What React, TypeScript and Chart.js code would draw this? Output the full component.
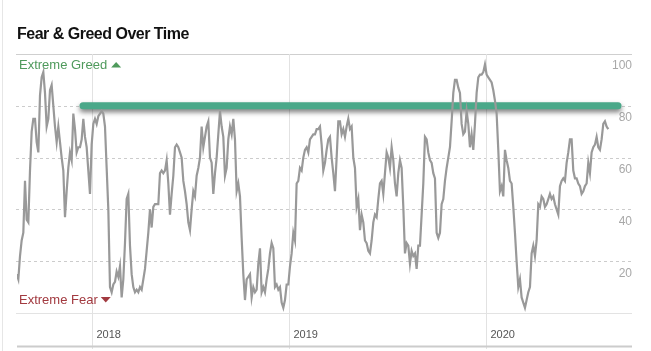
import React, { useEffect, useRef } from "react";
import { Chart, registerables } from "chart.js";

Chart.register(...registerables);

// Fear & Greed index sampled about every 3 days (decimal-year timeline)
const seriesStartYear = 2017.6193;
const seriesStepYears = 0.00846;

const values2017to2018 = [
  15, 13, 22, 28, 31, 51, 36, 35, 55, 70, 75, 75, 66, 62, 84, 91, 93, 85, 72, 75,
  86, 88, 80, 72, 66, 72, 66, 60, 55, 37, 47, 56, 62, 59, 77, 71, 62, 64, 64, 67,
  75, 68, 64, 55, 46, 65, 73, 75, 73, 76, 77, 78, 77, 72, 56, 40, 10, 8, 11, 12,
  16, 14, 18, 6, 13, 27, 44, 46, 26, 15, 10, 8, 9, 8, 10, 9, 13, 17, 24, 31,
  40, 33, 41, 42, 42, 42, 54, 55, 54, 55, 59, 50, 38, 46, 53, 64, 65, 64, 62, 60,
  51, 47, 42, 35, 32, 40, 47, 45, 53, 56,
];

const values2018to2019 = [
  60, 72, 64, 68, 72, 74, 60, 58, 46, 54, 60, 69, 78, 72, 68, 53, 56, 67, 72, 69,
  75, 67, 47, 50, 45, 29, 15, 5, 13, 14, 15, 6, 10, 8, 9, 19, 25, 8, 10, 8,
  13, 17, 23, 27, 25, 10, 11, 9, 10, 4, 2, 5, 11, 11, 18, 23, 31, 28, 50, 51,
  56, 55, 60, 63, 64, 62, 67, 68, 69, 69, 71, 71, 72, 65, 55, 58, 63, 67, 68, 60,
  54, 47, 60, 74, 74, 69, 71, 68, 72, 75, 71, 72, 60, 56, 41, 44, 32, 38, 35, 28,
  27, 24, 23, 28, 35, 38, 37, 44, 50, 51, 46, 54, 62, 60, 56, 64, 59, 50, 45, 54,
  59, 56, 41, 23, 27, 26, 19, 24, 22, 23, 17, 26,
];

const values2019to2020 = [
  26, 38, 50, 68, 67, 62, 59, 58, 54, 52, 31, 29, 31, 42, 44, 51, 56, 60, 64, 74,
  85, 90, 90, 87, 85, 73, 69, 70, 78, 73, 64, 69, 63, 73, 85, 91, 92, 92, 93, 96,
  92, 91, 90, 89, 86, 82, 77, 63, 47, 49, 45, 63, 59, 56, 51, 50, 41, 31, 20, 10,
  13, 6, 4, 2, 5, 8, 10, 23, 26, 22, 28, 42, 41, 45, 44, 41, 42, 44, 46, 44,
  45, 42, 40, 38, 49, 51, 52, 51, 58, 62, 67, 67, 55, 52, 52, 50, 49, 46, 47, 49,
  50, 58, 54, 62, 64, 65, 68, 64, 63, 67, 73, 74, 72, 71,
];

const fearGreedValues = [...values2017to2018, ...values2018to2019, ...values2019to2020];

// Extreme-greed reference band
const greedLineValue = 80;
const greedLineStart = 2017.956;
const greedLineEnd = 2020.672;

// Axes
const xMin = 2017.621;
const xMax = 2020.743;
const yearTicks = [2018, 2019, 2020];
const yTicks = [20, 40, 60, 80, 100];

const titleText = "Fear & Greed Over Time";
const greedLabel = "Extreme Greed";
const fearLabel = "Extreme Fear";

export default function App() {
  const ref = useRef<HTMLCanvasElement | null>(null);

  useEffect(() => {
    const canvas = ref.current;
    if (!canvas) return;

    const points = fearGreedValues.map((v, i) => ({ x: seriesStartYear + i * seriesStepYears, y: v }));

    const decorPlugin = {
      id: "decor",
      beforeDatasetsDraw(chart: any) {
        const { ctx, chartArea, scales } = chart;
        const xs = scales.x;
        const ys = scales.y;
        ctx.save();
        // container left border
        ctx.strokeStyle = "#e6e6e6";
        ctx.lineWidth = 1;
        ctx.beginPath();
        ctx.moveTo(2.5, 0);
        ctx.lineTo(2.5, 351);
        ctx.stroke();

        // title
        ctx.fillStyle = "#111";
        ctx.font = "bold 16px 'Liberation Sans', Arial, sans-serif";
        ctx.textAlign = "left";
        ctx.textBaseline = "alphabetic";
        (ctx as any).letterSpacing = "-0.5px";
        ctx.fillText(titleText, 17, 39);
        (ctx as any).letterSpacing = "0px";

        // horizontal grid
        [0, ...yTicks].forEach((v) => {
          const y = Math.round(ys.getPixelForValue(v)) + 0.5;
          ctx.beginPath();
          if (v === 0 || v === 100) {
            ctx.setLineDash([]);
            ctx.strokeStyle = v === 100 ? "#cfcfcf" : "#e3e3e3";
          } else {
            ctx.setLineDash([3, 3]);
            ctx.strokeStyle = "#cccccc";
          }
          ctx.moveTo(chartArea.left - 1, y);
          ctx.lineTo(chartArea.right, y);
          ctx.stroke();
        });
        ctx.setLineDash([]);

        // year grid lines and labels
        ctx.font = "11px 'Liberation Sans', Arial, sans-serif";
        ctx.textBaseline = "middle";
        yearTicks.forEach((yr) => {
          const x = Math.round(xs.getPixelForValue(yr)) + 0.5;
          ctx.strokeStyle = "#e2e2e2";
          ctx.beginPath();
          ctx.moveTo(x, chartArea.top);
          ctx.lineTo(x, 349);
          ctx.stroke();
          ctx.fillStyle = "#555";
          ctx.fillText(String(yr), x + 4, 335);
        });

        // bottom thick rule
        ctx.strokeStyle = "#cccccc";
        ctx.lineWidth = 2;
        ctx.beginPath();
        ctx.moveTo(chartArea.left, 346.5);
        ctx.lineTo(chartArea.right, 346.5);
        ctx.stroke();

        // y labels
        ctx.font = "12px 'Liberation Sans', Arial, sans-serif";
        ctx.textAlign = "right";
        ctx.fillStyle = "#a8a8a8";
        yTicks.forEach((v) => {
          const y = ys.getPixelForValue(v) + 12;
          ctx.fillText(String(v), chartArea.right, y);
        });

        // extreme labels
        ctx.textAlign = "left";
        ctx.font = "13px 'Liberation Sans', Arial, sans-serif";
        ctx.fillStyle = "#4f9a5c";
        ctx.fillText(greedLabel, 19, 65);
        let w = ctx.measureText(greedLabel).width;
        let tx = 19 + w + 4;
        ctx.beginPath();
        ctx.moveTo(tx, 67.5);
        ctx.lineTo(tx + 10, 67.5);
        ctx.lineTo(tx + 5, 62);
        ctx.closePath();
        ctx.fill();

        ctx.fillStyle = "#a23a40";
        ctx.fillText(fearLabel, 19, 300);
        w = ctx.measureText(fearLabel).width;
        tx = 19 + w + 3;
        ctx.beginPath();
        ctx.moveTo(tx, 297);
        ctx.lineTo(tx + 10, 297);
        ctx.lineTo(tx + 5, 302.5);
        ctx.closePath();
        ctx.fill();
        ctx.restore();
      },
      beforeDatasetDraw(chart: any, args: any) {
        if (args.index === 1) {
          const ctx = chart.ctx;
          ctx.save();
          ctx.shadowColor = "rgba(0,0,0,0.5)";
          ctx.shadowBlur = 5;
          ctx.shadowOffsetY = 3;
        }
      },
      afterDatasetDraw(chart: any, args: any) {
        if (args.index === 1) chart.ctx.restore();
      },
    };

    const chart = new Chart(canvas, {
      type: "line",
      data: {
        datasets: [
          {
            data: points,
            borderColor: "#999999",
            borderWidth: 2.2,
            pointRadius: 0,
            tension: 0,
            fill: false,
          },
          {
            data: [
              { x: greedLineStart, y: greedLineValue },
              { x: greedLineEnd, y: greedLineValue },
            ],
            borderColor: "#4aa889",
            borderWidth: 7,
            borderCapStyle: "round",
            pointRadius: 0,
            fill: false,
          },
        ],
      },
      options: {
        animation: false,
        responsive: false,
        events: [],
        layout: { padding: { left: 17, right: 19, top: 54, bottom: 38 } },
        plugins: { legend: { display: false }, tooltip: { enabled: false }, title: { display: false } },
        scales: {
          x: { type: "linear", min: xMin, max: xMax, display: false },
          y: { type: "linear", min: 0, max: 100, display: false },
        },
      },
      plugins: [decorPlugin],
    });
    return () => chart.destroy();
  }, []);

  return (
    <div style={{ position: "fixed", left: 0, top: 0, width: 651, height: 351, background: "#fff" }}>
      <canvas ref={ref} width={651} height={351} style={{ display: "block" }} />
    </div>
  );
}
